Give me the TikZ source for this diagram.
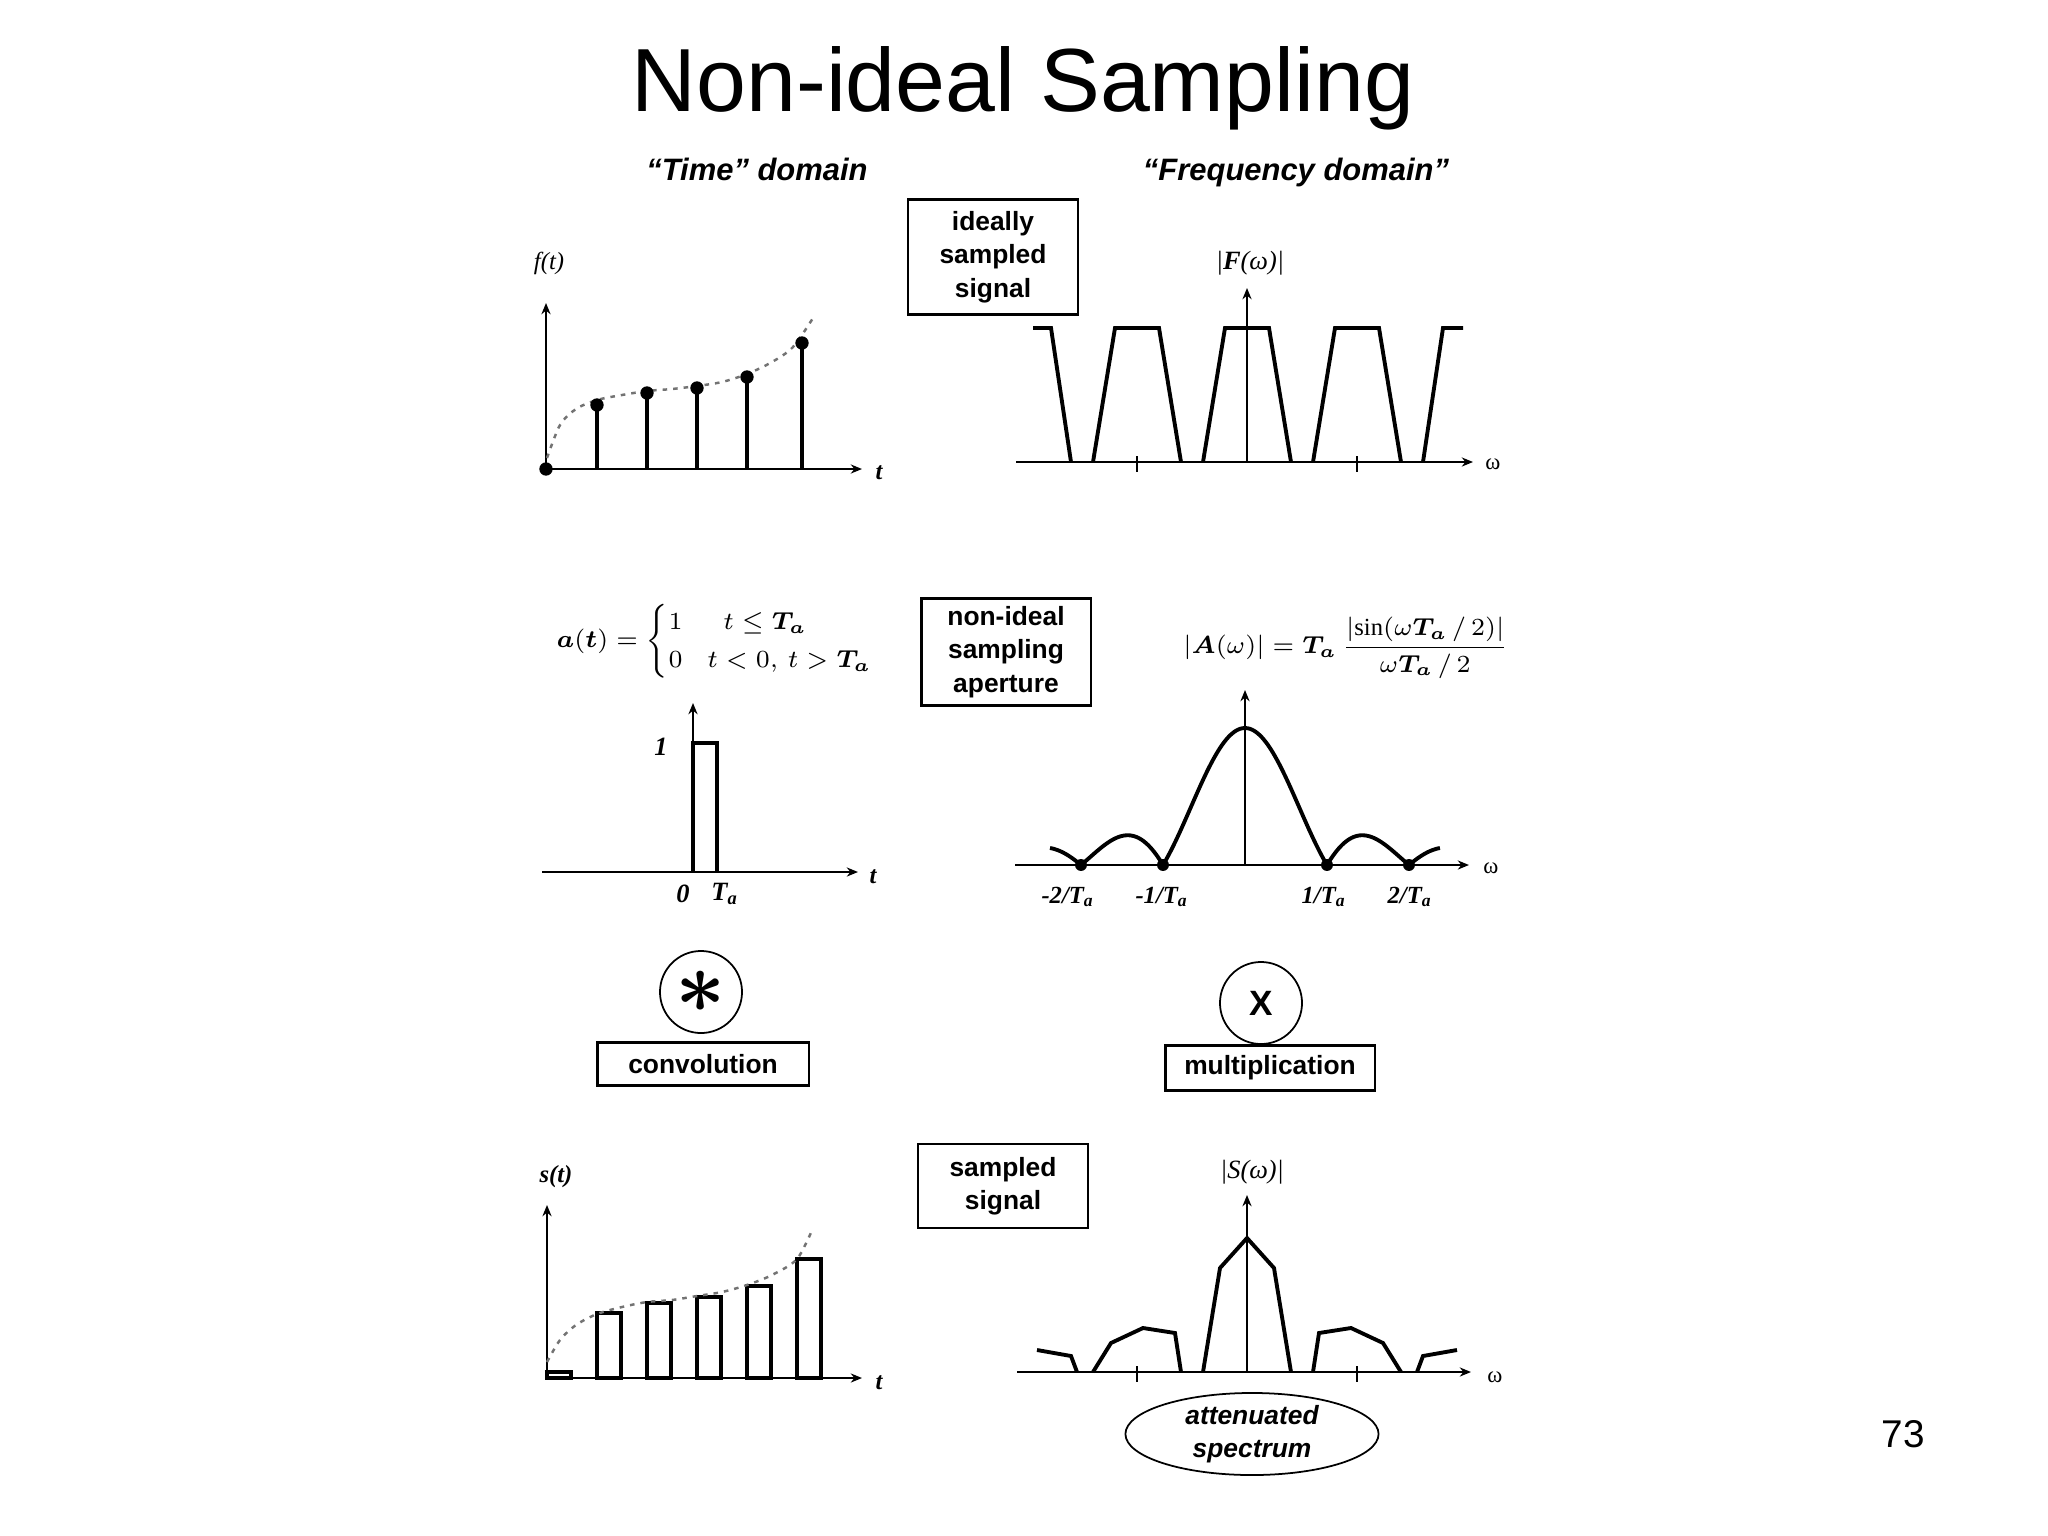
\documentclass[tikz,border=0pt]{standalone}
\usepackage{amsmath}
\usepackage{fontspec}
\setmainfont{Liberation Serif}
\setsansfont{Liberation Sans}
\usetikzlibrary{arrows.meta,shapes.geometric}

\begin{document}
\begin{tikzpicture}[
			x=0.01cm, y=-0.01cm,
			base/.style={align=center, inner sep=0pt, font=\sffamily\bfseries\fontsize{7.5}{9.5}\selectfont},
			box/.style={base, draw, line width=0.6pt},
			oper/.style={draw, circle, line width=0.5pt, minimum size=0.82cm, inner sep=0pt},
			domainhead/.style={anchor=base, font=\sffamily\bfseries\itshape\fontsize{8.8}{10}\selectfont},
			lbl/.style={inner sep=0pt, font=\itshape\fontsize{7}{8}\selectfont},
			omegalbl/.style={inner sep=0pt, font=\fontsize{6.5}{8}\selectfont},
			formula/.style={inner sep=0pt, font=\fontsize{7}{9}\selectfont},
			arr/.style={line width=0.5pt, -{Stealth[length=3.2pt,width=2.6pt]}},
			tickmark/.style={line width=0.5pt},
			sig/.style={line width=1.1pt},
			pulse/.style={line width=0.95pt},
			envelope/.style={dash pattern=on 1.3pt off 1.7pt, line width=0.7pt, black!55},
			]

			\newcommand{\prd}{110}

			\fill [white] (0,0) rectangle (2048,1536);
			\useasboundingbox (0,0) rectangle (2048,1536);

			\node [anchor=base, font=\sffamily\fontsize{25.5}{30}\selectfont] (title) at (1023,111) {Non-ideal Sampling};
			\node [domainhead] (timehead) at (757,180) {“Time” domain};
			\node [domainhead] (freqhead) at (1296,180) {“Frequency domain”};

			% ideally sampled signal
			\node [box, minimum width=1.70cm, minimum height=1.15cm] (ideal) at (993,257) {ideally\\sampled\\signal};

			\draw [arr] (546,469) -- (546,303);
			\draw [arr] (546,469) -- (862,469);
			\node [lbl] (ft) at (549,263) {f(t)};
			\node [lbl, font=\bfseries\itshape\fontsize{7}{8}\selectfont] (tone) at (879,473) {t};
			\draw [envelope] plot [smooth] coordinates {(547,458) (560,425) (576,409) (597,400) (622,395) (647,391) (672,389) (697,386) (722,382) (747,374) (772,362) (793,347) (813,318)};
			\foreach \xs/\ys in {597/405, 647/393, 697/388, 747/377, 802/343} {
				\draw [sig] (\xs,469) -- (\xs,\ys);
				\fill (\xs,\ys) circle (1.9pt);
			}
			\fill (546,469) circle (1.9pt);

			\draw [arr] (1016,462) -- (1473,462);
			\draw [arr] (1247,462) -- (1247,288);
			\foreach \k in {-1,1}
				\draw [tickmark] ({1247+\k*\prd},456) -- ({1247+\k*\prd},472);
			\foreach \k in {-1,0,1}
				\draw [sig] ({1247+\k*\prd-44},462) -- ({1247+\k*\prd-22},328) -- ({1247+\k*\prd+22},328) -- ({1247+\k*\prd+44},462);
			\draw [sig] (1033,328) -- (1051,328) -- (1071,462);
			\draw [sig] (1423,462) -- (1443,328) -- (1463,328);
			\node [lbl, font=\itshape\fontsize{7.5}{8}\selectfont] (Fw) at (1250,263) {|\textbf{F}(ω)|};
			\node [omegalbl] (wone) at (1493,464) {ω};

			% sampling aperture
			\node [formula] (aformula) at (716,641) {$\boldsymbol{a}(\boldsymbol{t}) = \begin{cases} 1 & \;\; t\le \boldsymbol{T_a}\\ 0 & t<0,\, t>\boldsymbol{T_a}\end{cases}$};
			\node [box, minimum width=1.69cm, minimum height=1.07cm] (aperture) at (1006,652) {non-ideal\\sampling\\aperture};
			\node [formula] (Aformula) at (1346,648) {$\left|\boldsymbol{A}(\omega)\right| = \boldsymbol{T_a}\,\dfrac{\left|\sin(\omega \boldsymbol{T_a}\,/\,2)\right|}{\omega \boldsymbol{T_a}\,/\,2}$};

			\draw [arr] (542,872) -- (858,872);
			\draw [arr] (693,872) -- (693,703);
			\draw [sig] (693,872) -- (693,743) -- (717,743) -- (717,872);
			\node [lbl, font=\bfseries\itshape\fontsize{7.5}{8}\selectfont] (one) at (661,747) {1};
			\node [lbl, font=\bfseries\itshape\fontsize{7.5}{8}\selectfont] (zero) at (683,894) {0};
			\node [lbl, font=\bfseries\itshape\fontsize{7.5}{8}\selectfont] (Ta) at (725,894) {T\textsubscript{a}};
			\node [lbl, font=\bfseries\itshape\fontsize{7}{8}\selectfont] (ttwo) at (873,877) {t};

			\draw [arr] (1015,865) -- (1469,865);
			\draw [arr] (1245,865) -- (1245,690);
			\draw [sig] plot [domain=-2.378:2.378, samples=200] ({1245+82*\x},{865-137*abs(sin(\x*180)/(\x*pi))});
			\foreach \z in {-164,-82,82,164}
				\fill ({1245+\z},865) circle (1.7pt);
			\node [lbl, font=\bfseries\itshape\fontsize{7}{8}\selectfont] (mtwo) at (1068,897) {-2/T\textsubscript{a}};
			\node [lbl, font=\bfseries\itshape\fontsize{7}{8}\selectfont] (mone) at (1162,897) {-1/T\textsubscript{a}};
			\node [lbl, font=\bfseries\itshape\fontsize{7}{8}\selectfont] (pone) at (1324,897) {1/T\textsubscript{a}};
			\node [lbl, font=\bfseries\itshape\fontsize{7}{8}\selectfont] (ptwo) at (1410,897) {2/T\textsubscript{a}};
			\node [omegalbl] (wtwo) at (1491,868) {ω};

			% operations
			\node [oper, font=\fontsize{24}{24}\selectfont] (convop) at (701,992) {$\boldsymbol{\ast}$};
			\node [box, minimum width=2.11cm, minimum height=0.43cm] (conv) at (703,1064) {convolution};
			\node [oper, font=\sffamily\bfseries\fontsize{10}{10}\selectfont] (multop) at (1261,1003) {X};
			\node [box, minimum width=2.09cm, minimum height=0.45cm] (mult) at (1270,1068) {multiplication};

			% sampled signal
			\draw [arr] (547,1378) -- (547,1205);
			\draw [arr] (547,1378) -- (862,1378);
			\node [lbl, font=\bfseries\itshape\fontsize{7}{8}\selectfont] (st) at (556,1177) {s(t)};
			\node [lbl, font=\bfseries\itshape\fontsize{7}{8}\selectfont] (tthree) at (879,1383) {t};
			\draw [pulse] (547,1378) rectangle (571,1372);
			\foreach \xb/\yb in {597/1313, 647/1303, 697/1297, 747/1286, 797/1259}
				\draw [pulse] (\xb,1378) rectangle ({\xb+24},\yb);
			\draw [envelope] plot [smooth] coordinates {(547,1362) (560,1340) (576,1325) (597,1314) (622,1307) (647,1302) (672,1300) (697,1296) (722,1292) (747,1285) (772,1275) (797,1259) (813,1228)};

			\node [box, minimum width=1.70cm, minimum height=0.84cm] (sampled) at (1003,1186) {sampled\\signal};
			\node [lbl, font=\itshape\fontsize{7.5}{8}\selectfont] (Sw) at (1252,1172) {|S(ω)|};
			\draw [arr] (1017,1372) -- (1471,1372);
			\draw [arr] (1247,1372) -- (1247,1195);
			\foreach \k in {-1,1}
				\draw [tickmark] ({1247+\k*\prd},1366) -- ({1247+\k*\prd},1382);
			\draw [sig] (1203,1372) -- (1220,1268) -- (1247,1238) -- (1274,1268) -- (1291,1372);
			\draw [sig] (1313,1372) -- (1319,1333) -- (1351,1328) -- (1383,1343) -- (1401,1372);
			\draw [sig] (1093,1372) -- (1111,1343) -- (1143,1328) -- (1175,1333) -- (1181,1372);
			\draw [sig] (1037,1350) -- (1071,1356) -- (1077,1372);
			\draw [sig] (1417,1372) -- (1423,1356) -- (1457,1350);
			\node [omegalbl] (wthree) at (1495,1377) {ω};
			\node [ellipse, draw, line width=0.5pt, minimum width=2.53cm, minimum height=0.82cm, base, font=\sffamily\bfseries\itshape\fontsize{7.5}{9.5}\selectfont] (atten) at (1252,1434) {attenuated\\spectrum};

			\node [font=\sffamily\fontsize{11}{12}\selectfont] (page) at (1903,1434) {73};

		\end{tikzpicture}
\end{document}
